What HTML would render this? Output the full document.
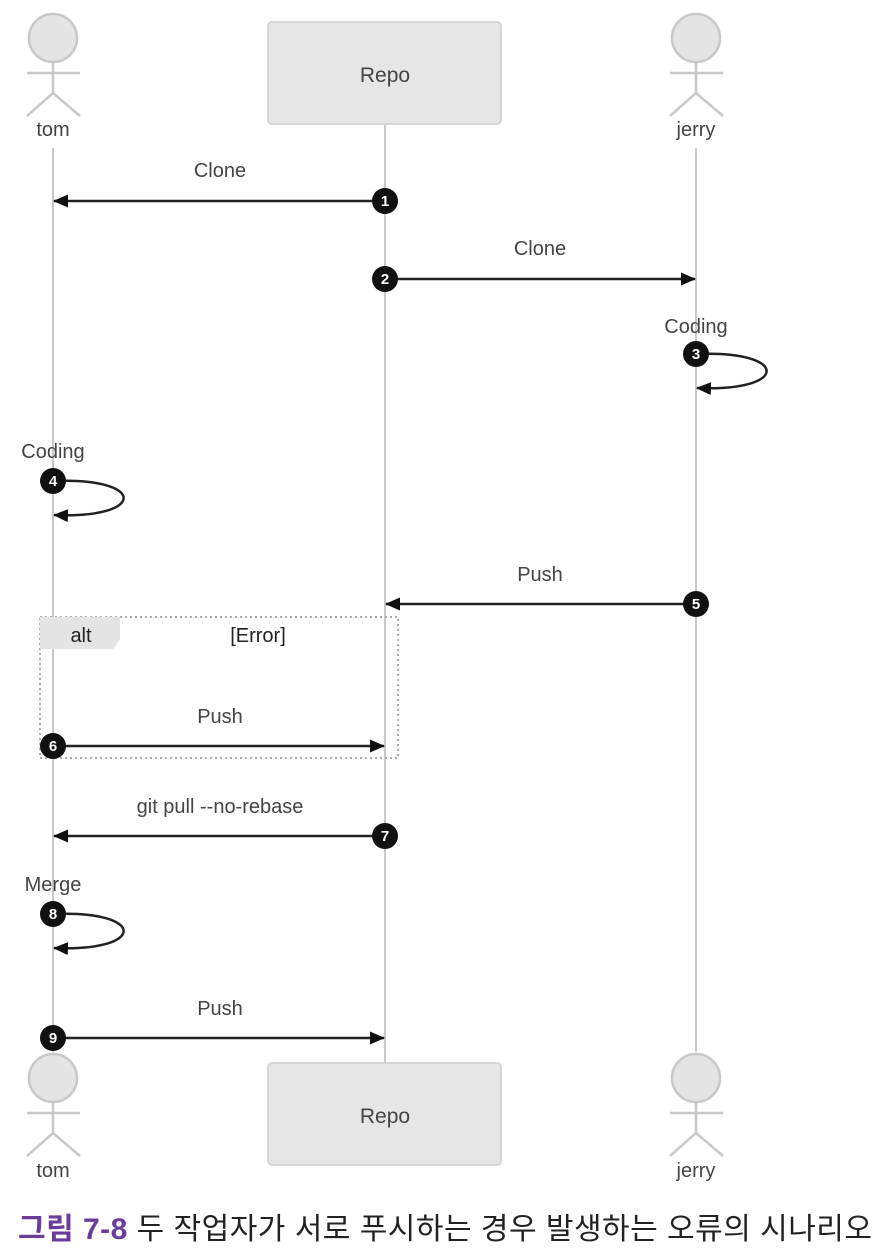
<!DOCTYPE html>
<html><head><meta charset="utf-8"><style>
html,body{margin:0;padding:0;background:#fff;}
svg{display:block;}
text{font-family:"Liberation Sans","DejaVu Sans",sans-serif;fill:#444;}
</style></head><body>
<svg width="890" height="1259" viewBox="0 0 890 1259" xmlns="http://www.w3.org/2000/svg">
<defs>
<marker id="ah" markerWidth="15" markerHeight="13" refX="14" refY="6.5" orient="auto" markerUnits="userSpaceOnUse">
<path d="M0,0 L15,6.5 L0,13 z" fill="#111"/>
</marker>
</defs>
<g stroke="#c8c8c8" stroke-width="2">
<line x1="53" y1="148" x2="53" y2="1052"/>
<line x1="385" y1="124" x2="385" y2="1063"/>
<line x1="696" y1="148" x2="696" y2="1052"/>
</g>
<g fill="#e4e4e4" stroke="#c8c8c8" stroke-width="2.5">
<g><circle cx="53" cy="38" r="24"/><path d="M53 62 V93 M27 73 H80 M27 116 L53 93 L80 116" fill="none"/></g>
<g transform="translate(643,0)"><circle cx="53" cy="38" r="24"/><path d="M53 62 V93 M27 73 H80 M27 116 L53 93 L80 116" fill="none"/></g>
<g transform="translate(0,1040)"><circle cx="53" cy="38" r="24"/><path d="M53 62 V93 M27 73 H80 M27 116 L53 93 L80 116" fill="none"/></g>
<g transform="translate(643,1040)"><circle cx="53" cy="38" r="24"/><path d="M53 62 V93 M27 73 H80 M27 116 L53 93 L80 116" fill="none"/></g>
</g>
<g font-size="20" text-anchor="middle">
<text x="53" y="136">tom</text>
<text x="696" y="136">jerry</text>
<text x="53" y="1177">tom</text>
<text x="696" y="1177">jerry</text>
</g>
<rect x="268" y="22" width="233" height="102" rx="4" fill="#e6e6e6" stroke="#d6d6d6" stroke-width="2"/>
<rect x="268" y="1063" width="233" height="102" rx="4" fill="#e6e6e6" stroke="#d6d6d6" stroke-width="2"/>
<text x="385" y="82" font-size="21" text-anchor="middle">Repo</text>
<text x="385" y="1123" font-size="21" text-anchor="middle">Repo</text>
<rect x="40" y="617" width="358" height="141" fill="none" stroke="#aaa" stroke-width="2" stroke-dasharray="2,3"/>
<path d="M40 617 H120 V639 L113 649 H40 z" fill="#e4e4e4"/>
<text x="81" y="642" font-size="20" text-anchor="middle" style="fill:#222">alt</text>
<text x="258" y="642" font-size="20" text-anchor="middle" style="fill:#222">[Error]</text>
<g stroke="#222" stroke-width="2.5" fill="none" marker-end="url(#ah)">
<line x1="385" y1="201" x2="54" y2="201"/>
<line x1="385" y1="279" x2="695" y2="279"/>
<path d="M696 354 C790 350 790 392 697 388"/>
<path d="M53 481 C147 477 147 519 54 515"/>
<line x1="696" y1="604" x2="386" y2="604"/>
<line x1="53" y1="746" x2="384" y2="746"/>
<line x1="385" y1="836" x2="54" y2="836"/>
<path d="M53 914 C147 910 147 952 54 948"/>
<line x1="53" y1="1038" x2="384" y2="1038"/>
</g>
<g font-size="20" text-anchor="middle">
<text x="220" y="177">Clone</text>
<text x="540" y="255">Clone</text>
<text x="696" y="333">Coding</text>
<text x="53" y="458">Coding</text>
<text x="540" y="581">Push</text>
<text x="220" y="723">Push</text>
<text x="220" y="813">git pull --no-rebase</text>
<text x="53" y="891">Merge</text>
<text x="220" y="1015">Push</text>
</g>
<g font-size="15" font-weight="bold" text-anchor="middle">
<circle cx="385" cy="201" r="13" fill="#111"/><text x="385" y="206" style="fill:#fff">1</text>
<circle cx="385" cy="279" r="13" fill="#111"/><text x="385" y="284" style="fill:#fff">2</text>
<circle cx="696" cy="354" r="13" fill="#111"/><text x="696" y="359" style="fill:#fff">3</text>
<circle cx="53" cy="481" r="13" fill="#111"/><text x="53" y="486" style="fill:#fff">4</text>
<circle cx="696" cy="604" r="13" fill="#111"/><text x="696" y="609" style="fill:#fff">5</text>
<circle cx="53" cy="746" r="13" fill="#111"/><text x="53" y="751" style="fill:#fff">6</text>
<circle cx="385" cy="836" r="13" fill="#111"/><text x="385" y="841" style="fill:#fff">7</text>
<circle cx="53" cy="914" r="13" fill="#111"/><text x="53" y="919" style="fill:#fff">8</text>
<circle cx="53" cy="1038" r="13" fill="#111"/><text x="53" y="1043" style="fill:#fff">9</text>
</g>
<text x="18" y="1239" font-size="30" textLength="854" lengthAdjust="spacing" style="font-family:'Liberation Sans','Noto Sans CJK KR',sans-serif"><tspan font-weight="bold" style="fill:#6a3d9a">그림 7-8</tspan><tspan style="fill:#222"> 두 작업자가 서로 푸시하는 경우 발생하는 오류의 시나리오</tspan></text>
</svg>
</body></html>
